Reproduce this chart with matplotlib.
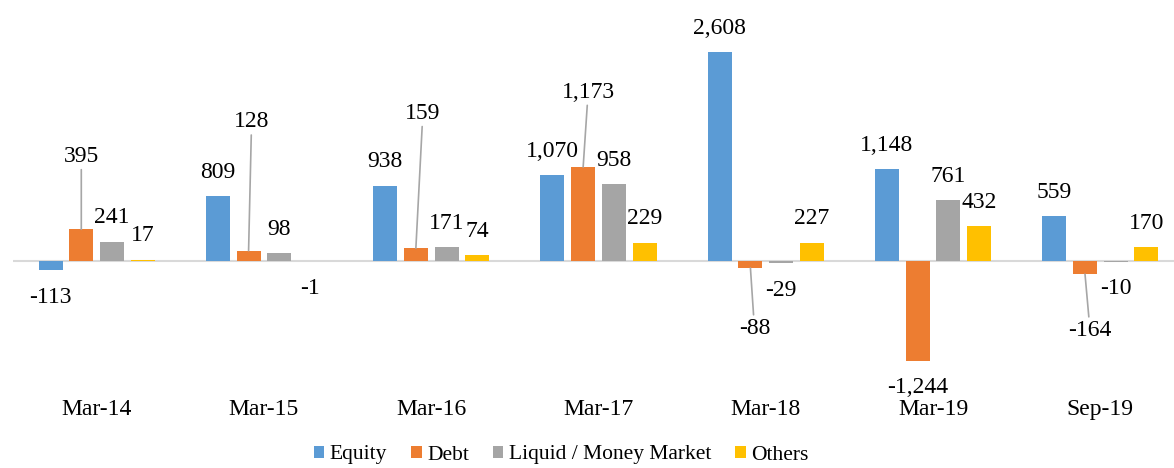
import matplotlib
matplotlib.use("Agg")
import matplotlib.pyplot as plt
from matplotlib.patches import Patch
import numpy as np

# net flows by category
categories = ["Mar-14", "Mar-15", "Mar-16", "Mar-17", "Mar-18", "Mar-19", "Sep-19"]
equity = [-113, 809, 938, 1070, 2608, 1148, 559]
debt = [395, 128, 159, 1173, -88, -1244, -164]
liquid = [241, 98, 171, 958, -29, 761, -10]
others = [17, -1, 74, 229, 227, 432, 170]
series_names = ["Equity", "Debt", "Liquid / Money Market", "Others"]

colors = ["#5B9BD5", "#ED7D31", "#A5A5A5", "#FFC000"]
serif = ['Liberation Serif', 'DejaVu Serif']
plt.rcParams['font.family'] = serif

W, H = 1174, 468
fig = plt.figure(figsize=(W / 100, H / 100), dpi=100)
ax = fig.add_axes([13 / W, 1 - 392 / H, 1171 / W, 392 / H])

px_per_unit = 0.0801
ax.set_xlim(-0.5, 6.5)
ax.set_ylim(-(392 - 261) / px_per_unit, 261 / px_per_unit)

x = np.arange(len(categories))
pitch = 0.1835
width = 0.143
all_series = [equity, debt, liquid, others]

# label offsets (dx, dy in pixels) for labels moved away with a leader line
leaders = {
    (1, 0): (0, 73),
    (1, 1): (3, 129),
    (1, 2): (7, 135),
    (1, 3): (5, 75),
    (1, 4): (4, -60),
    (1, 6): (5, -56),
}

fs = 17
for k, vals in enumerate(all_series):
    xs = x + (k - 1.5) * pitch
    ax.bar(xs, vals, width, color=colors[k], edgecolor="none", zorder=2)
    for i, v in enumerate(vals):
        txt = "{:,}".format(v)
        if (k, i) in leaders:
            dx, dy = leaders[(k, i)]
            ax.annotate(txt, xy=(xs[i], v), xytext=(dx, dy), textcoords="offset pixels",
                        ha="center", va="center", fontsize=fs,
                        arrowprops=dict(arrowstyle="-", color="#A6A6A6", lw=1.2,
                                        shrinkA=0, shrinkB=0))
        else:
            dy = 24 if v >= 0 else -27
            ax.annotate(txt, xy=(xs[i], v), xytext=(0, dy), textcoords="offset pixels",
                        ha="center", va="center", fontsize=fs)

ax.axhline(0, color="#D9D9D9", linewidth=1.5, zorder=1)

for s in ax.spines.values():
    s.set_visible(False)
ax.set_yticks([])
ax.set_xticks(x)
ax.set_xticklabels(categories, fontsize=fs)
ax.tick_params(axis="x", length=0, pad=5)

handles = [Patch(facecolor=c) for c in colors]
fig.legend(handles, series_names, loc="center", bbox_to_anchor=(561 / W, 13 / H),
           ncol=4, frameon=False, prop=dict(family=serif, size=15.5),
           handlelength=0.5, handleheight=0.5,
           handletextpad=0.25, columnspacing=1.1, borderpad=0, borderaxespad=0)

fig.savefig("out.png", dpi=100)
